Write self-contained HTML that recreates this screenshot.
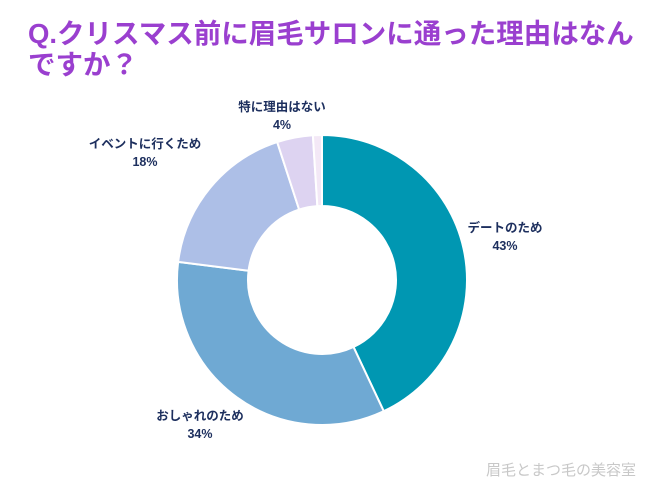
<!DOCTYPE html>
<html><head><meta charset="utf-8"><style>
body{margin:0;width:650px;height:488px;background:#fff;font-family:"Liberation Sans","Noto Sans CJK JP",sans-serif;overflow:hidden;position:relative}
.t{position:absolute;left:28px;top:18px;color:#9a3fcf;font-size:27.5px;font-weight:bold;line-height:31px;width:620px;white-space:nowrap}
.wm{position:absolute;right:14px;bottom:8px;color:#c8c8c8;font-size:15px}
</style></head><body>
<div class="t">Q.クリスマス前に眉毛サロンに通った理由はなん<br>ですか？</div>
<svg id="c" width="650" height="488" style="position:absolute;left:0;top:0"></svg>
<div class="wm">眉毛とまつ毛の美容室</div>
<script>
const categories=["デートのため","おしゃれのため","イベントに行くため","特に理由はない","その他"];
const values=[43,34,18,4,1];
const showLabel=[true,true,true,true,false];
const colors=["#0097b2","#6fa9d3","#adbfe7","#ddd3f1","#f3e8f6"];
const labelPos=[[505,232],[200,420],[145,148],[282,111],[0,0]];
const cx=322,cy=280,R=145,r=74;
const svg=document.getElementById('c');const ns="http://www.w3.org/2000/svg";
const total=values.reduce((a,b)=>a+b,0);
let a0=-Math.PI/2;
function pt(rad,a){return [cx+rad*Math.cos(a),cy+rad*Math.sin(a)];}
values.forEach((v,i)=>{
 const a1=a0+v/total*2*Math.PI;const lg=(a1-a0)>Math.PI?1:0;
 const p1=pt(R,a0),p2=pt(R,a1),p3=pt(r,a1),p4=pt(r,a0);
 const p=document.createElementNS(ns,'path');
 p.setAttribute('d',`M${p1}L${p1}A${R},${R} 0 ${lg} 1 ${p2}L${p3}A${r},${r} 0 ${lg} 0 ${p4}Z`);
 p.setAttribute('fill',colors[i]);p.setAttribute('stroke','#fff');p.setAttribute('stroke-width','2');
 
 
 svg.appendChild(p);
 if(showLabel[i]){
  const [x,y]=labelPos[i];
  [categories[i],v+'%'].forEach((s,j)=>{
   const t=document.createElementNS(ns,'text');
   t.setAttribute('x',x);t.setAttribute('y',y+j*18);t.setAttribute('text-anchor','middle');
   t.setAttribute('fill','#1d2f5e');t.setAttribute('font-size','12.5');t.setAttribute('font-weight','bold');
   t.textContent=s;
   
   
   svg.appendChild(t);
  });
 }
 a0=a1;
});
</script>
</body></html>
